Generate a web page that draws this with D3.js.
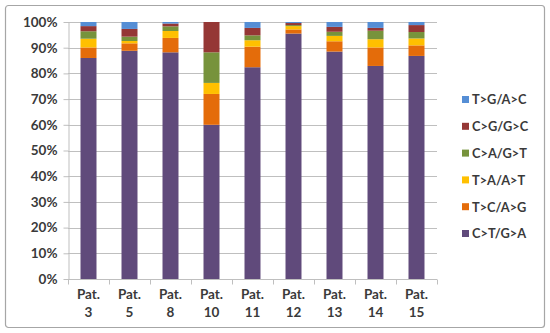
<!DOCTYPE html>
<html>
<head>
<meta charset="utf-8">
<script src="https://cdn.jsdelivr.net/npm/d3@7"></script>
<style>
  html, body { margin: 0; padding: 0; background: #fff; }
  svg text { font-family: Lato, "Liberation Sans", sans-serif; font-weight: bold; fill: #3a3a3a; }
</style>
</head>
<body>
<div id="chart"></div>
<script>
// patients on the x axis
const patients = ["3", "5", "8", "10", "11", "12", "13", "14", "15"];

// substitution types, bottom to top of each stack
const types = ["C>T/G>A", "T>C/A>G", "T>A/A>T", "C>A/G>T", "C>G/G>C", "T>G/A>C"];

// percent share per patient
const ctGa = [86.0, 88.8, 88.2, 60.0, 82.4, 95.5, 88.5, 82.9, 86.8];
const tcAg = [4.1, 2.9, 5.6, 12.0, 8.0, 1.6, 4.0, 7.2, 4.1];
const taAt = [3.4, 0.9, 2.7, 4.3, 2.5, 1.3, 2.1, 3.2, 2.7];
const caGt = [2.9, 1.7, 1.8, 11.9, 1.9, 0.4, 1.6, 3.3, 2.5];
const cgGc = [2.0, 3.0, 1.1, 11.8, 2.9, 0.8, 1.9, 1.1, 2.7];
const tgAc = [1.6, 2.7, 0.6, 0.0, 2.3, 0.4, 1.9, 2.3, 1.2];

const yTicks = [0, 0.1, 0.2, 0.3, 0.4, 0.5, 0.6, 0.7, 0.8, 0.9, 1];

const colors = ["#604A7B", "#E46C0A", "#FFC000", "#77933C", "#953735", "#558ED5"];

const width = 550, height = 333;
const margin = { top: 22, right: 113, bottom: 54, left: 68 };

const series = [ctGa, tcAg, taAt, caGt, cgGc, tgAc];
const rows = patients.map((p, i) => {
  const r = { patient: p };
  types.forEach((t, k) => { r[t] = series[k][i]; });
  return r;
});

const stacked = d3.stack().keys(types).offset(d3.stackOffsetExpand)(rows);

const svg = d3.select("#chart").append("svg")
  .attr("width", width)
  .attr("height", height);

// outer frame
svg.append("rect")
  .attr("x", 5.5).attr("y", 5.5)
  .attr("width", 539).attr("height", 322)
  .attr("rx", 3)
  .attr("fill", "#fff")
  .attr("stroke", "#A6A6A6")
  .attr("stroke-width", 1.2);

const x = d3.scaleBand()
  .domain(patients)
  .range([margin.left, width - margin.right])
  .paddingInner(0.61)
  .paddingOuter(0.305);

const y = d3.scaleLinear()
  .domain([0, 1])
  .range([height - margin.bottom, margin.top]);

// gridlines
svg.append("g")
  .selectAll("line")
  .data(yTicks.slice(1))
  .enter()
  .append("line")
  .attr("x1", margin.left)
  .attr("x2", width - margin.right)
  .attr("y1", d => Math.round(y(d)) + 0.5)
  .attr("y2", d => Math.round(y(d)) + 0.5)
  .attr("stroke", "#BFBFBF")
  .attr("stroke-width", 1);

// y axis
const yAxis = svg.append("g")
  .attr("transform", `translate(${margin.left + 0.5},0)`)
  .call(d3.axisLeft(y).tickValues(yTicks).tickFormat(d3.format(".0%")).tickSizeInner(5).tickSizeOuter(0).tickPadding(6));
yAxis.select(".domain").attr("stroke", "#BFBFBF");
yAxis.selectAll(".tick line").attr("stroke", "#BFBFBF");
yAxis.selectAll("text").attr("font-size", 13.5).attr("fill", "#3a3a3a");

// bars
svg.append("g")
  .selectAll("g")
  .data(stacked)
  .enter()
  .append("g")
  .attr("fill", (d, i) => colors[i])
  .selectAll("rect")
  .data(d => d)
  .enter()
  .append("rect")
  .attr("x", d => x(d.data.patient))
  .attr("y", d => y(d[1]))
  .attr("width", x.bandwidth())
  .attr("height", d => y(d[0]) - y(d[1]));

// x axis line and ticks between categories
const baseY = Math.round(y(0)) + 0.5;
svg.append("line")
  .attr("x1", margin.left).attr("x2", width - margin.right)
  .attr("y1", baseY).attr("y2", baseY)
  .attr("stroke", "#BFBFBF");
const step = x.step();
svg.append("g")
  .selectAll("line")
  .data(d3.range(patients.length + 1))
  .enter()
  .append("line")
  .attr("x1", i => Math.round(margin.left + i * step) + 0.5)
  .attr("x2", i => Math.round(margin.left + i * step) + 0.5)
  .attr("y1", baseY).attr("y2", baseY + 5)
  .attr("stroke", "#BFBFBF");

// x labels, two lines
const xl = svg.append("g")
  .selectAll("text")
  .data(patients)
  .enter()
  .append("text")
  .attr("text-anchor", "middle")
  .attr("font-size", 13.5);
xl.append("tspan")
  .attr("x", d => x(d) + x.bandwidth() / 2)
  .attr("y", 299)
  .text("Pat.");
xl.append("tspan")
  .attr("x", d => x(d) + x.bandwidth() / 2)
  .attr("y", 317)
  .text(d => d);

// legend, top entry is the last stack
const legend = svg.append("g")
  .selectAll("g")
  .data(types.slice().reverse())
  .enter()
  .append("g")
  .attr("transform", (d, i) => `translate(462,${100 + i * 26.8})`);
legend.append("rect")
  .attr("x", 0).attr("y", -4)
  .attr("width", 7).attr("height", 7)
  .attr("fill", d => colors[types.indexOf(d)]);
legend.append("text")
  .attr("x", 10)
  .attr("y", 0)
  .attr("dy", "0.35em")
  .attr("font-size", 12.8)
  .text(d => d);
</script>
</body>
</html>
